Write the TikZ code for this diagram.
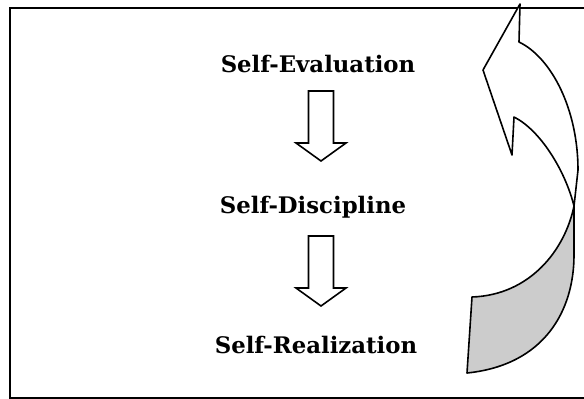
\documentclass[tikz,border=0pt]{standalone}
\usepackage{fontspec}
\setmainfont{DejaVu Serif}
\usetikzlibrary{calc}

\tikzset{
  label text/.style={font=\fontsize{22.8}{27}\selectfont\bfseries, inner sep=0pt, anchor=base},
  block/.style={draw=black, line width=1.6pt, fill=white, line join=miter},
  frame/.style={draw=black, line width=2pt},
  pics/downarrow/.style={code={
    % shaft 25 wide, head 50 wide, total length 70
    \draw[block] (-12.5,-35) -- (-12.5,17) -- (-25,17) -- (0,35)
      -- (25,17) -- (12.5,17) -- (12.5,-35) -- cycle;
  }}
}

\begin{document}
\begin{tikzpicture}[x=1pt, y=-1pt]
  \useasboundingbox (0,0) rectangle (584,399);

  % open frame (right side runs off the page)
  \draw[frame] (590,7.5) -- (10,7.5) -- (10,397.5) -- (590,397.5);

  % the three stages
  \node[label text] (ev) at (318,72)  {Self-Evaluation};
  \node[label text] (di) at (313,213) {Self-Discipline};
  \node[label text] (re) at (316,353) {Self-Realization};

  % block arrows between the stages
  \coordinate (a1) at (321,126);
  \coordinate (a2) at (321,271);
  \pic at (a1) {downarrow};
  \pic at (a2) {downarrow};

  % curved return arrow on the right
  \coordinate (T)  at (520,4);
  \coordinate (A)  at (483,70);
  \coordinate (B)  at (512,155);
  \coordinate (N1) at (514,117);
  \coordinate (N2) at (519,42);
  \coordinate (M)  at (578,170);
  \coordinate (X)  at (574,206);
  \coordinate (L)  at (574,255);
  \coordinate (E)  at (472,297);
  \coordinate (F)  at (467,373);

  % shaded underside of the band
  \draw[line width=1.6pt, fill=black!20, line join=round]
    (X) .. controls (565,250) and (530,295) .. (E)
    -- (F) .. controls (545,365) and (574,310) .. (L)
    -- (X) -- cycle;

  % white band with arrow head
  \draw[block, line join=round]
    (N2) .. controls (552,58) and (578,110) .. (M)
    -- (X)
    .. controls (565,170) and (540,130) .. (N1)
    -- (B) -- (A) -- (T) -- cycle;
\end{tikzpicture}
\end{document}
